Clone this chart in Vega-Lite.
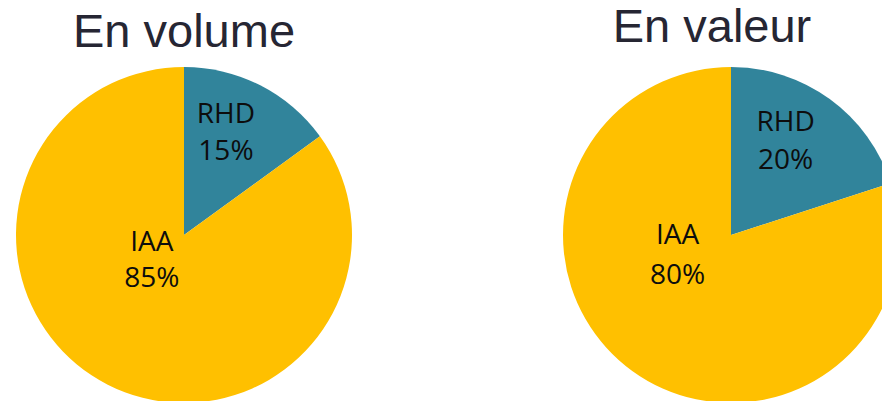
{
  "$schema": "https://vega.github.io/schema/vega-lite/v6.json",
  "background": "white",
  "padding": {"left": 16, "top": 4, "right": 0, "bottom": 0},
  "config": {"view": {"stroke": null}, "concat": {"spacing": 211}},
  "data": {"values": [
    {"chart": "volume", "category": "RHD", "share": 0.15},
    {"chart": "volume", "category": "IAA", "share": 0.85},
    {"chart": "valeur", "category": "RHD", "share": 0.20},
    {"chart": "valeur", "category": "IAA", "share": 0.80}
  ]},
  "hconcat": [
    {
      "width": 336, "height": 336,
      "title": {"text": "En volume", "font": "Liberation Sans", "fontSize": 47, "fontWeight": "normal", "color": "#262633", "anchor": "middle", "baseline": "alphabetic", "offset": -27},
      "transform": [{"filter": "datum.chart === 'volume'"}],
      "encoding": {
        "theta": {"field": "share", "type": "quantitative", "stack": true},
        "order": {"field": "category", "sort": "descending"}
      },
      "layer": [
        {"mark": {"type": "arc"},
         "encoding": {"color": {"field": "category", "type": "nominal", "scale": {"domain": ["RHD", "IAA"], "range": ["#31849B", "#FFC000"]}, "legend": null}}},
        {"mark": {"type": "text", "radius": 110, "dx": -8, "dy": -14, "font": "Open Sans", "fontSize": 28, "color": "#0d0d0d", "baseline": "alphabetic", "align": "center"},
         "encoding": {"text": {"condition": {"test": "datum.category === 'RHD'", "field": "category"}, "value": ""}}},
        {"mark": {"type": "text", "radius": 110, "dx": -8, "dy": 23, "font": "Open Sans", "fontSize": 28, "color": "#0d0d0d", "baseline": "alphabetic", "align": "center"},
         "encoding": {"text": {"condition": {"test": "datum.category === 'RHD'", "field": "share", "format": ".0%"}, "value": ""}}},
        {"mark": {"type": "text", "radius": 40, "dx": -14, "dy": -20, "font": "Open Sans", "fontSize": 28, "color": "#0d0d0d", "baseline": "alphabetic", "align": "center"},
         "encoding": {"text": {"condition": {"test": "datum.category === 'IAA'", "field": "category"}, "value": ""}}},
        {"mark": {"type": "text", "radius": 40, "dx": -14, "dy": 16, "font": "Open Sans", "fontSize": 28, "color": "#0d0d0d", "baseline": "alphabetic", "align": "center"},
         "encoding": {"text": {"condition": {"test": "datum.category === 'IAA'", "field": "share", "format": ".0%"}, "value": ""}}}
      ]
    },
    {
      "width": 336, "height": 336,
      "title": {"text": "En valeur", "font": "Liberation Sans", "fontSize": 47, "fontWeight": "normal", "color": "#262633", "anchor": "middle", "baseline": "alphabetic", "offset": -22, "dx": -19},
      "transform": [{"filter": "datum.chart === 'valeur'"}],
      "encoding": {
        "theta": {"field": "share", "type": "quantitative", "stack": true},
        "order": {"field": "category", "sort": "descending"}
      },
      "layer": [
        {"mark": {"type": "arc"},
         "encoding": {"color": {"field": "category", "type": "nominal", "scale": {"domain": ["RHD", "IAA"], "range": ["#31849B", "#FFC000"]}, "legend": null}}},
        {"mark": {"type": "text", "radius": 110, "dx": -10, "dy": -15, "font": "Open Sans", "fontSize": 28, "color": "#0d0d0d", "baseline": "alphabetic", "align": "center"},
         "encoding": {"text": {"condition": {"test": "datum.category === 'RHD'", "field": "category"}, "value": ""}}},
        {"mark": {"type": "text", "radius": 110, "dx": -10, "dy": 23, "font": "Open Sans", "fontSize": 28, "color": "#0d0d0d", "baseline": "alphabetic", "align": "center"},
         "encoding": {"text": {"condition": {"test": "datum.category === 'RHD'", "field": "share", "format": ".0%"}, "value": ""}}},
        {"mark": {"type": "text", "radius": 50, "dx": -24, "dy": -31, "font": "Open Sans", "fontSize": 28, "color": "#0d0d0d", "baseline": "alphabetic", "align": "center"},
         "encoding": {"text": {"condition": {"test": "datum.category === 'IAA'", "field": "category"}, "value": ""}}},
        {"mark": {"type": "text", "radius": 50, "dx": -24, "dy": 9, "font": "Open Sans", "fontSize": 28, "color": "#0d0d0d", "baseline": "alphabetic", "align": "center"},
         "encoding": {"text": {"condition": {"test": "datum.category === 'IAA'", "field": "share", "format": ".0%"}, "value": ""}}}
      ]
    }
  ]
}
